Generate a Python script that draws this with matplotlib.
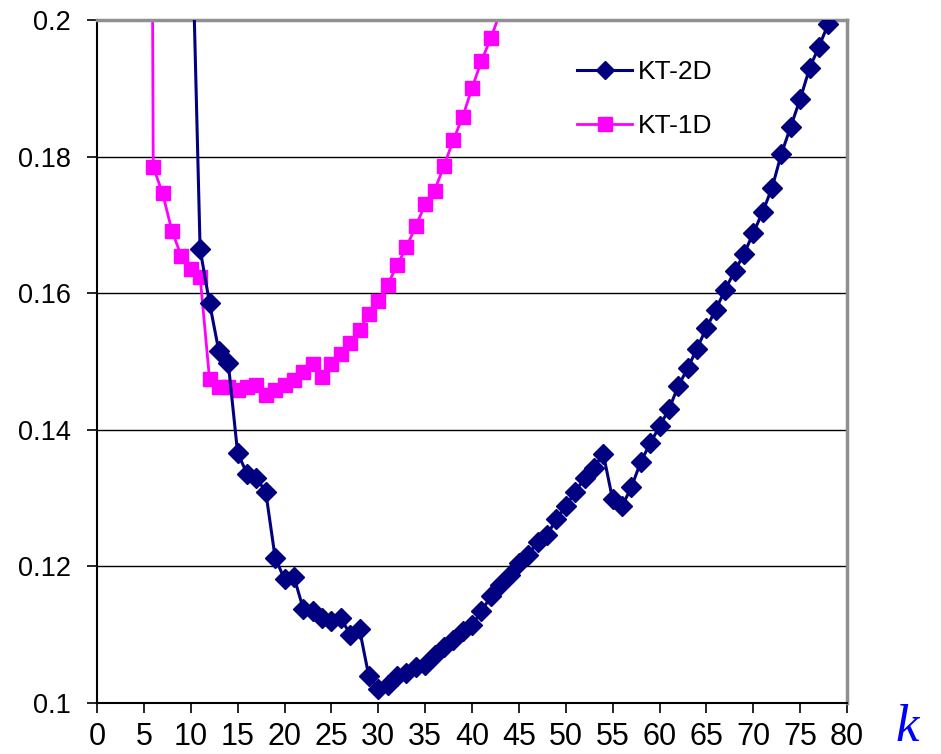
import matplotlib
matplotlib.use("Agg")
from matplotlib import pyplot as plt

# KT-2D (navy diamonds)
k_2d = list(range(10, 79))
v_2d = [0.221, 0.1664, 0.1586, 0.1515, 0.1498, 0.1366, 0.1336, 0.1330, 0.1309, 0.1213,
        0.1181, 0.1185, 0.1138, 0.1135, 0.1125, 0.1120, 0.1125, 0.1100, 0.1108, 0.1039,
        0.1020, 0.1026, 0.1039, 0.1044, 0.1053, 0.1056, 0.1070, 0.1082, 0.1092, 0.1106,
        0.1114, 0.1134, 0.1156, 0.1173, 0.1187, 0.1205, 0.1217, 0.1236, 0.1246, 0.1269,
        0.1288, 0.1309, 0.1329, 0.1344, 0.1365, 0.1298, 0.1288, 0.1316, 0.1353, 0.1380,
        0.1405, 0.1430, 0.1464, 0.1490, 0.1519, 0.1549, 0.1576, 0.1605, 0.1632, 0.1657,
        0.1688, 0.1719, 0.1754, 0.1804, 0.1844, 0.1884, 0.1929, 0.1961, 0.1994]

# KT-1D (magenta squares)
k_1d = list(range(5, 44))
v_1d = [0.5, 0.1785, 0.1746, 0.1691, 0.1654, 0.1636, 0.1624, 0.1475, 0.1463, 0.1462,
        0.1459, 0.1463, 0.1466, 0.1451, 0.1458, 0.1466, 0.1473, 0.1485, 0.1496, 0.1478,
        0.1496, 0.1511, 0.1527, 0.1546, 0.1569, 0.1588, 0.1612, 0.1641, 0.1667, 0.1698,
        0.1730, 0.1750, 0.1786, 0.1824, 0.1858, 0.1900, 0.1940, 0.1973, 0.2011]

x_ticks = list(range(0, 81, 5))
y_ticks = [0.1, 0.12, 0.14, 0.16, 0.18, 0.2]
y_labels = ["0.1", "0.12", "0.14", "0.16", "0.18", "0.2"]

plt.rcParams["font.family"] = ["Liberation Sans", "DejaVu Sans"]

fig = plt.figure(figsize=(9.41, 7.54), dpi=100)
ax = fig.add_axes([97 / 941, 51 / 754, 750 / 941, 683 / 754])

ax.plot(k_2d, v_2d, color="#000080", marker="D", markersize=10, linewidth=2.2,
        label="KT-2D", zorder=3)
ax.plot(k_1d, v_1d, color="#FF00FF", marker="s", markersize=10.5, linewidth=2.0,
        label="KT-1D", zorder=2)

ax.set_xlim(0, 80)
ax.set_ylim(0.1, 0.2)
ax.set_xticks(x_ticks)
ax.set_xticklabels([str(t) for t in x_ticks], fontsize=22)
ax.set_yticks(y_ticks)
ax.set_yticklabels(y_labels, fontsize=19.5)

ax.grid(axis="y", color="black", linewidth=1.0)
ax.set_axisbelow(True)

ax.tick_params(axis="both", direction="out", length=7, width=1.2, color="black")
ax.tick_params(axis="x", pad=7)
ax.tick_params(axis="y", pad=12)

ax.spines["left"].set_color("black")
ax.spines["left"].set_linewidth(1.5)
ax.spines["bottom"].set_color("black")
ax.spines["bottom"].set_linewidth(1.5)
ax.spines["top"].set_color("#909090")
ax.spines["top"].set_linewidth(2.5)
ax.spines["right"].set_color("#909090")
ax.spines["right"].set_linewidth(2.5)

leg = ax.legend(loc="upper left", bbox_to_anchor=(577 / 941, 1 - 60 / 754),
                bbox_transform=fig.transFigure, frameon=False, borderpad=0,
                borderaxespad=0, fontsize=19, handlelength=2.1, labelspacing=1.15,
                handletextpad=0.2, markerscale=0.9)

fig.text(907 / 941, 1 - 728 / 754, "k", color="#0000FF", style="italic",
         family=["Liberation Serif", "DejaVu Serif"], fontsize=38,
         ha="center", va="center")

fig.savefig("out.png", dpi=100)
